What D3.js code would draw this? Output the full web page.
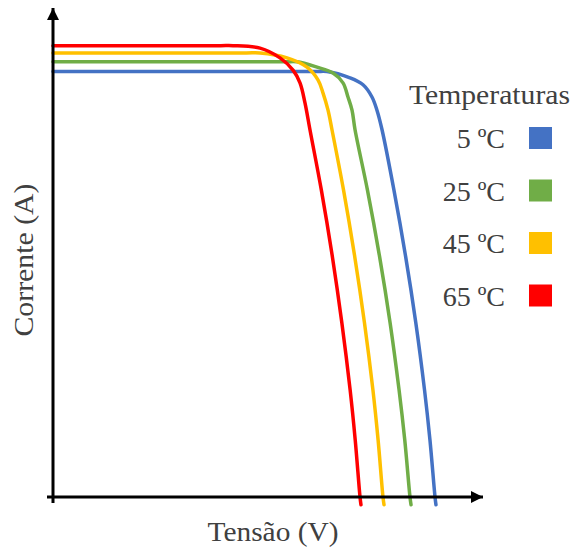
<!DOCTYPE html>
<html>
<head>
<meta charset="utf-8">
<script src="https://cdn.jsdelivr.net/npm/d3@7"></script>
<style>
  html, body { margin: 0; padding: 0; background: #fff; }
  svg { display: block; }
  text { font-family: "Liberation Serif", "Times New Roman", serif; fill: #404040; }
</style>
</head>
<body>
<svg id="chart" width="573" height="550"></svg>
<script>
// I-V curves of a PV module at four cell temperatures
const temperatures = ["5 ºC", "25 ºC", "45 ºC", "65 ºC"];
const colors = ["#4472C4", "#70AD47", "#FFC000", "#FF0000"];

// voltage (V) and current (A) samples for each temperature
const voltage5 = [0, 15, 30.5, 31.86, 34.53, 36.05, 37.09, 37.67, 38.26, 39.64, 41.01, 42.19, 43.20, 43.83, 44.42, 44.53];
const current5 = [8.70, 8.70, 8.70, 8.70, 8.57, 8.43, 8.18, 7.91, 7.51, 6.28, 4.91, 3.56, 2.19, 1.17, 0, -0.16];

const voltage25 = [0, 14, 27, 28.37, 30.70, 32.56, 33.72, 34.30, 34.77, 35.12, 36.56, 37.98, 39.20, 40.24, 40.90, 41.51, 41.63];
const current25 = [8.90, 8.90, 8.90, 8.90, 8.79, 8.67, 8.47, 8.18, 7.91, 7.51, 6.28, 4.91, 3.56, 2.19, 1.17, 0, -0.16];

const voltage45 = [0, 12, 22.5, 24.07, 27.21, 29.53, 30.81, 31.40, 31.98, 32.44, 33.78, 35.09, 36.22, 37.20, 37.80, 38.37, 38.49];
const current45 = [9.08, 9.08, 9.08, 9.08, 8.98, 8.79, 8.53, 8.26, 7.91, 7.51, 6.28, 4.91, 3.56, 2.19, 1.17, 0, -0.16];

const voltage65 = [0, 10, 19.5, 20.93, 24.07, 26.40, 27.91, 28.72, 29.30, 29.88, 31.20, 32.49, 33.59, 34.55, 35.14, 35.70, 35.81];
const current65 = [9.23, 9.23, 9.23, 9.23, 9.18, 8.98, 8.73, 8.47, 8.06, 7.51, 6.28, 4.91, 3.56, 2.19, 1.17, 0, -0.16];

const voltages = [voltage5, voltage25, voltage45, voltage65];
const currents = [current5, current25, current45, current65];

const xLabel = "Tensão (V)";
const yLabel = "Corrente (A)";
const legendTitle = "Temperaturas";

const svg = d3.select("#chart");

const x = d3.scaleLinear().domain([0, 50]).range([53, 483]);
const y = d3.scaleLinear().domain([0, 10]).range([497, 8]);

// arrowhead marker for both axes
svg.append("defs").append("marker")
  .attr("id", "arrow")
  .attr("viewBox", "0 0 12 12")
  .attr("refX", 12).attr("refY", 6)
  .attr("markerWidth", 12).attr("markerHeight", 12)
  .attr("markerUnits", "userSpaceOnUse")
  .attr("orient", "auto")
  .append("path")
  .attr("d", "M0,0 L12,6 L0,12 Z")
  .attr("fill", "#000");

// curves (drawn coolest first so the hottest sits on top)
const line = d3.line()
  .x(d => x(d[0]))
  .y(d => y(d[1]))
  .curve(d3.curveCatmullRom.alpha(0.5));

temperatures.forEach((t, k) => {
  const pts = voltages[k].map((v, j) => [v, currents[k][j]]);
  svg.append("path")
    .datum(pts)
    .attr("d", line)
    .attr("fill", "none")
    .attr("stroke", colors[k])
    .attr("stroke-width", 3.5)
    .attr("stroke-linejoin", "round")
    .attr("stroke-linecap", "round");
});

// axes with arrowheads
svg.append("line")
  .attr("x1", x(0) - 6).attr("y1", y(0))
  .attr("x2", x(50)).attr("y2", y(0))
  .attr("stroke", "#000").attr("stroke-width", 3)
  .attr("marker-end", "url(#arrow)");
svg.append("line")
  .attr("x1", x(0)).attr("y1", y(0) + 6)
  .attr("x2", x(0)).attr("y2", y(10))
  .attr("stroke", "#000").attr("stroke-width", 3)
  .attr("marker-end", "url(#arrow)");

// axis titles
svg.append("text")
  .attr("x", 273).attr("y", 541)
  .attr("text-anchor", "middle")
  .attr("font-size", 28)
  .attr("textLength", 131)
  .attr("lengthAdjust", "spacingAndGlyphs")
  .text(xLabel);

svg.append("text")
  .attr("transform", "translate(33,260) rotate(-90)")
  .attr("text-anchor", "middle")
  .attr("font-size", 28)
  .attr("textLength", 153)
  .attr("lengthAdjust", "spacingAndGlyphs")
  .text(yLabel);

// legend
svg.append("text")
  .attr("x", 409).attr("y", 104)
  .attr("font-size", 28)
  .attr("textLength", 161)
  .attr("lengthAdjust", "spacingAndGlyphs")
  .text(legendTitle);

const legend = svg.append("g");
temperatures.forEach((t, k) => {
  const cy = 138 + k * 52.5;
  legend.append("text")
    .attr("x", 505).attr("y", cy + 10)
    .attr("text-anchor", "end")
    .attr("font-size", 28)
    .text(t);
  legend.append("rect")
    .attr("x", 529).attr("y", cy - 11)
    .attr("width", 23).attr("height", 22)
    .attr("fill", colors[k]);
});
</script>
</body>
</html>
